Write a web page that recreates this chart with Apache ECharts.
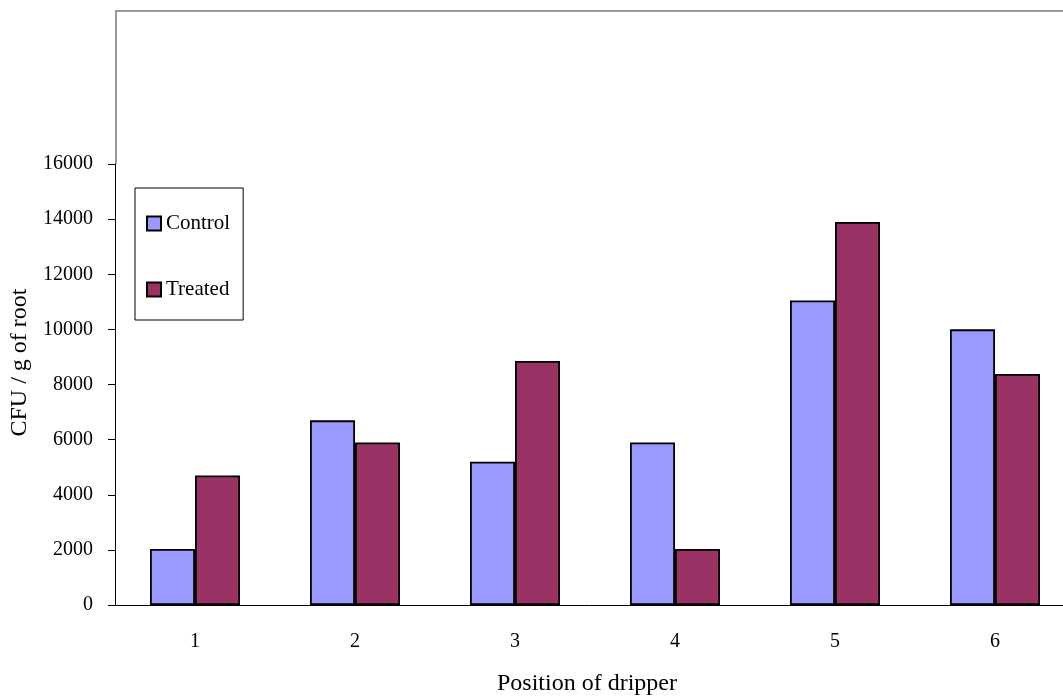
<!DOCTYPE html>
<html>
<head>
<meta charset="utf-8">
<script src="https://cdn.jsdelivr.net/npm/echarts@6/dist/echarts.min.js"></script>
<style>
html,body{margin:0;padding:0;background:#fff;}
#chart{width:1063px;height:698px;}
</style>
</head>
<body>
<div id="chart"></div>
<script>
const categories = ['1', '2', '3', '4', '5', '6'];
const controlValues = [2030, 6700, 5200, 5900, 11050, 10000];
const treatedValues = [4700, 5900, 8850, 2030, 13900, 8380];
const seriesNames = ['Control', 'Treated'];
const xTitle = 'Position of dripper';
const yTitle = 'CFU / g of root';

const FONT = '"Liberation Serif", "Times New Roman", serif';
const chart = echarts.init(document.getElementById('chart'));
chart.setOption({
  animation: false,
  backgroundColor: '#fff',
  grid: { left: 115, top: 164, right: -12, bottom: 93, containLabel: false, outerBoundsMode: 'none' },
  legend: {
    orient: 'vertical',
    left: 135, top: 188,
    padding: [25, 13, 20, 11],
    itemGap: 45,
    itemWidth: 14, itemHeight: 14,
    borderColor: '#000', borderWidth: 1,
    icon: 'rect',
    textStyle: { fontFamily: FONT, fontSize: 21, color: '#000' },
    data: seriesNames
  },
  xAxis: {
    type: 'category',
    data: categories,
    name: xTitle,
    nameLocation: 'middle',
    nameGap: 67,
    nameTextStyle: { fontFamily: FONT, fontSize: 24, color: '#000', padding: [0, 16, 0, 0] },
    axisLine: { lineStyle: { color: '#000', width: 1 } },
    axisTick: { length: 7, lineStyle: { color: '#000' } },
    axisLabel: { fontFamily: FONT, fontSize: 20, color: '#000', margin: 27 }
  },
  yAxis: {
    type: 'value',
    min: 0, max: 16000, interval: 2000,
    name: yTitle,
    nameLocation: 'middle',
    nameGap: 83,
    nameTextStyle: { fontFamily: FONT, fontSize: 24, color: '#000', padding: [0, 0, 0, 44] },
    axisLine: { show: true, lineStyle: { color: '#000', width: 1 } },
    axisTick: { show: true, length: 7, lineStyle: { color: '#000' } },
    axisLabel: { fontFamily: FONT, fontSize: 20, color: '#000', margin: 22, formatter: function (v) { return String(v); } },
    splitLine: { show: false }
  },
  series: [
    {
      name: seriesNames[0], type: 'bar', data: controlValues,
      barGap: '0%', barCategoryGap: '43.75%',
      itemStyle: { color: '#9999FF', borderColor: '#000', borderWidth: 1.8 }
    },
    {
      name: seriesNames[1], type: 'bar', data: treatedValues,
      barGap: '0%', barCategoryGap: '43.75%',
      itemStyle: { color: '#993366', borderColor: '#000', borderWidth: 1.8 }
    }
  ],
  graphic: [
    { type: 'line', shape: { x1: 115, y1: 11, x2: 1075, y2: 11 }, style: { stroke: '#999', lineWidth: 2 }, silent: true },
    { type: 'line', shape: { x1: 116, y1: 10, x2: 116, y2: 164 }, style: { stroke: '#999', lineWidth: 2 }, silent: true }
  ]
});
</script>
</body>
</html>
